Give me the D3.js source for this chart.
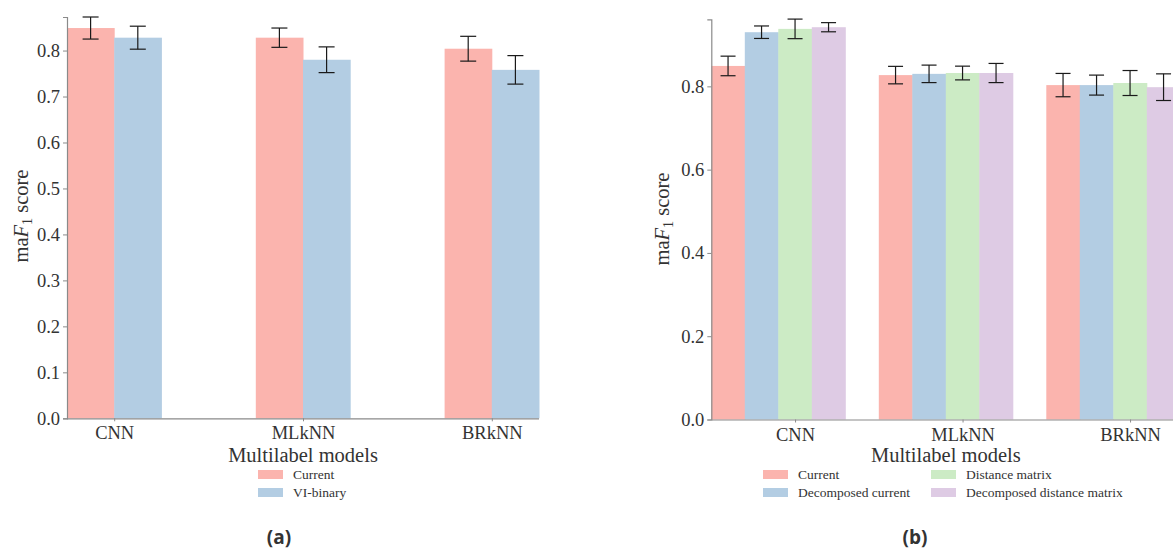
<!DOCTYPE html>
<html>
<head>
<meta charset="utf-8">
<script src="https://cdn.jsdelivr.net/npm/d3@7"></script>
<style>
  body { margin: 0; background: #fff; }
  text { fill: #333; }
</style>
</head>
<body>
<div id="chart"></div>
<script>
const models = ["CNN", "MLkNN", "BRkNN"];

// panel (a)
const seriesA = ["Current", "VI-binary"];
const currentA = [0.849, 0.828, 0.804];
const currentErrA = [0.024, 0.021, 0.027];
const binaryA = [0.828, 0.780, 0.758];
const binaryErrA = [0.025, 0.028, 0.031];
const ticksA = [0, 0.1, 0.2, 0.3, 0.4, 0.5, 0.6, 0.7, 0.8];

// panel (b)
const seriesB = ["Current", "Decomposed current", "Distance matrix", "Decomposed distance matrix"];
const currentB = [0.849, 0.827, 0.803];
const currentErrB = [0.0235, 0.021, 0.028];
const decCurrentB = [0.930, 0.830, 0.803];
const decCurrentErrB = [0.015, 0.021, 0.024];
const distB = [0.938, 0.832, 0.808];
const distErrB = [0.0235, 0.0165, 0.030];
const decDistB = [0.942, 0.832, 0.798];
const decDistErrB = [0.011, 0.023, 0.032];
const ticksB = [0, 0.2, 0.4, 0.6, 0.8];

const colors = ["#fbb4ae", "#b3cde3", "#ccebc5", "#decbe4"];
const serif = "Liberation Serif, Times New Roman, serif";
const axisColor = "#8a8a8a";

const width = 1173, height = 550;
const svg = d3.select("#chart").append("svg")
  .attr("width", width)
  .attr("height", height);

function drawPanel(p) {
  const g = svg.append("g");

  let y = d3.scaleLinear().domain([0, p.yMax]).range([p.bottom, p.top]);
  let x0 = d3.scaleBand().domain(models).range([p.left, p.right])
    .paddingInner(p.padding).paddingOuter(0);
  let x1 = d3.scaleBand().domain(p.series).range([0, x0.bandwidth()]);

  // one row per model/series
  let rows = [];
  models.forEach((m, i) => {
    p.series.forEach((s, j) => {
      rows.push({ model: m, series: s, j: j, value: p.values[j][i], err: p.errors[j][i] });
    });
  });

  g.selectAll("rect.bar")
    .data(rows)
    .enter()
    .append("rect")
    .attr("class", "bar")
    .attr("x", d => x0(d.model) + x1(d.series))
    .attr("y", d => y(d.value))
    .attr("width", x1.bandwidth() + 0.5)
    .attr("height", d => y(0) - y(d.value))
    .attr("fill", d => colors[d.j]);

  // error bars
  let eb = g.selectAll("g.err")
    .data(rows)
    .enter()
    .append("g")
    .attr("class", "err")
    .attr("transform", d => "translate(" + (x0(d.model) + x1(d.series) + x1.bandwidth() / 2) + ",0)")
    .attr("stroke", "#1a1a1a")
    .attr("stroke-width", 1.2);
  eb.append("line")
    .attr("x1", 0).attr("x2", 0)
    .attr("y1", d => y(d.value + d.err))
    .attr("y2", d => y(d.value - d.err));
  eb.append("line")
    .attr("x1", -p.cap / 2).attr("x2", p.cap / 2)
    .attr("y1", d => y(d.value + d.err))
    .attr("y2", d => y(d.value + d.err));
  eb.append("line")
    .attr("x1", -p.cap / 2).attr("x2", p.cap / 2)
    .attr("y1", d => y(d.value - d.err))
    .attr("y2", d => y(d.value - d.err));

  // y axis
  let yAxis = g.append("g")
    .attr("transform", "translate(" + p.left + ",0)")
    .call(d3.axisLeft(y).tickValues(p.ticks).tickFormat(d3.format(".1f")).tickSize(4).tickPadding(3));
  // x axis, tick position set per panel
  let tickPos = d3.scaleOrdinal()
    .domain(models)
    .range(models.map(m => x0(m) + p.tickAt(x1)));
  let xAxis = g.append("g")
    .attr("transform", "translate(0," + p.bottom + ")")
    .call(d3.axisBottom(tickPos).tickSize(3).tickSizeOuter(0).tickPadding(5));
  xAxis.select(".domain").attr("d", "M" + p.left + ",0.5H" + p.right);

  [yAxis, xAxis].forEach(a => {
    a.attr("font-family", serif).attr("font-size", 18.5);
    a.select(".domain").attr("stroke", axisColor).attr("stroke-width", 1.2);
    a.selectAll(".tick line").attr("stroke", axisColor);
    a.selectAll(".tick text")
      .attr("font-family", serif)
      .attr("font-size", 18.5)
      .attr("fill", "#333");
  });

  // axis titles
  g.append("text")
    .attr("x", (p.left + p.right) / 2)
    .attr("y", 462)
    .attr("text-anchor", "middle")
    .attr("font-family", serif)
    .attr("font-size", 20.5)
    .text("Multilabel models");

  let yl = g.append("text")
    .attr("transform", "translate(" + p.yLabelX + "," + p.yLabelY + ") rotate(-90)")
    .attr("text-anchor", "middle")
    .attr("font-family", serif)
    .attr("font-size", 20.5);
  yl.append("tspan").text("ma");
  yl.append("tspan").attr("font-style", "italic").text("F");
  yl.append("tspan").attr("dy", 4).attr("font-size", 14).text("1");
  yl.append("tspan").attr("dy", -4).text(" score");

  // legend
  let leg = g.selectAll("g.legend")
    .data(p.series)
    .enter()
    .append("g")
    .attr("class", "legend")
    .attr("transform", (d, i) => "translate(" + p.legendX[Math.floor(i / 2)] + "," + (470 + (i % 2) * 18) + ")");
  leg.append("rect")
    .attr("width", 25)
    .attr("height", 9)
    .attr("fill", (d, i) => colors[i]);
  leg.append("text")
    .attr("x", 35)
    .attr("y", 8.5)
    .attr("font-family", serif)
    .attr("font-size", 13.5)
    .text(d => d);

  // sub-figure caption
  g.append("text")
    .attr("x", p.captionX)
    .attr("y", 544)
    .attr("text-anchor", "middle")
    .attr("font-family", "Open Sans, DejaVu Sans, sans-serif")
    .attr("font-weight", "bold")
    .attr("font-size", 19)
    .attr("fill", "#111")
    .text(p.caption);
}

drawPanel({
  series: seriesA,
  values: [currentA, binaryA],
  errors: [currentErrA, binaryErrA],
  ticks: ticksA,
  yMax: 0.873,
  left: 67, right: 539, top: 17, bottom: 418.3,
  padding: 0.5,
  cap: 16,
  tickAt: x1 => x1.range()[1] / 2,
  yLabelX: 28, yLabelY: 216,
  legendX: [258],
  captionX: 279,
  caption: "(a)"
});

drawPanel({
  series: seriesB,
  values: [currentB, decCurrentB, distB, decDistB],
  errors: [currentErrB, decCurrentErrB, distErrB, decDistErrB],
  ticks: ticksB,
  yMax: 0.961,
  left: 711.3, right: 1180.3, top: 19.3, bottom: 419.5,
  padding: 0.2,
  cap: 15,
  tickAt: x1 => x1("Distance matrix") + x1.bandwidth() / 2,
  yLabelX: 669, yLabelY: 219,
  legendX: [763, 931],
  captionX: 915,
  caption: "(b)"
});
</script>
</body>
</html>
